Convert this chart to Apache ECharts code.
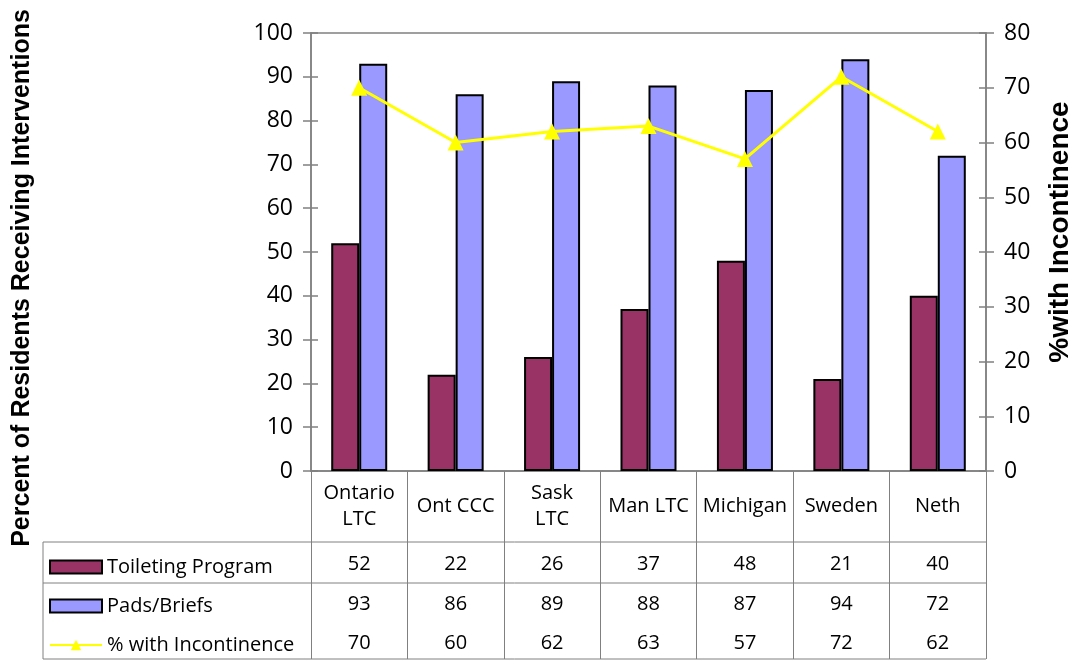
<!DOCTYPE html>
<html>
<head>
<meta charset="utf-8">
<script src="https://cdn.jsdelivr.net/npm/echarts@6/dist/echarts.min.js"></script>
<style>
  html, body { margin: 0; padding: 0; background: #fff; }
  #chart { width: 1075px; height: 660px; }
</style>
</head>
<body>
<div id="chart"></div>
<script>
// Sites compared
const categories = ['Ontario\nLTC', 'Ont CCC', 'Sask\nLTC', 'Man LTC', 'Michigan', 'Sweden', 'Neth'];
// Percent of residents receiving each intervention (left axis)
const toileting = [52, 22, 26, 37, 48, 21, 40];
const padsBriefs = [93, 86, 89, 88, 87, 94, 72];
// Percent of residents with incontinence (right axis)
const incontinence = [70, 60, 62, 63, 57, 72, 62];
const seriesNames = ['Toileting Program', 'Pads/Briefs', '% with Incontinence'];

const FONT = '"Open Sans", "DejaVu Sans", sans-serif';
const GRID = { left: 311, right: 89, top: 33, bottom: 189 };
const AXIS_GREY = '#808080';
const TABLE_LEFT = 43, ROW1_TOP = 542, ROW2_TOP = 583, TABLE_BOTTOM = 659, PLOT_RIGHT = 986;
const ROW_CENTERS = [564, 603, 642];

const chart = echarts.init(document.getElementById('chart'), null, { renderer: 'canvas' });

function valueRowAxis(values, offset) {
  return {
    type: 'category', data: categories, position: 'bottom', offset: offset,
    axisLine: { show: false }, axisTick: { show: false },
    axisLabel: {
      interval: 0, margin: 0, verticalAlign: 'middle',
      fontFamily: FONT, fontSize: 20, color: '#000',
      formatter: (v, i) => String(values[i])
    }
  };
}

function yAx(pos, max, interval, withLabels, inside) {
  return {
    type: 'value', position: pos, min: 0, max: max, interval: interval,
    splitLine: { show: false },
    axisLine: { show: withLabels, lineStyle: { color: AXIS_GREY, width: 1.5 } },
    axisTick: { show: true, inside: inside, length: inside ? 7 : 8, lineStyle: { color: AXIS_GREY, width: 1.5 } },
    axisLabel: { show: withLabels, margin: 18, fontFamily: FONT, fontSize: 23, color: '#000' }
  };
}

// one legend entry per table row, sitting in the row-header column
function rowLegend(name, rowIndex, icon) {
  const item = icon ? { name: name, icon: icon } : { name: name };
  return {
    orient: 'vertical', left: 49, top: ROW_CENTERS[rowIndex] - 7, padding: 0,
    itemWidth: 52, itemHeight: 13, itemGap: 0,
    data: [item],
    textStyle: { fontFamily: FONT, fontSize: 20, lineHeight: 14, color: '#000' }
  };
}

const option = {
  animation: false,
  backgroundColor: '#fff',
  grid: {
    left: GRID.left, right: GRID.right, top: GRID.top, bottom: GRID.bottom,
    show: true, borderColor: AXIS_GREY, borderWidth: 1.5, backgroundColor: 'transparent'
  },
  legend: [
    rowLegend(seriesNames[0], 0, 'rect'),
    rowLegend(seriesNames[1], 1, 'rect'),
    rowLegend(seriesNames[2], 2, null)
  ],
  xAxis: [
    {
      type: 'category', data: categories, boundaryGap: true,
      axisLine: { show: true, lineStyle: { color: AXIS_GREY, width: 1.5 } },
      axisTick: { show: true, interval: 0, length: 188, lineStyle: { color: AXIS_GREY, width: 1 } },
      axisLabel: {
        interval: 0, margin: 35, verticalAlign: 'middle', lineHeight: 26,
        fontFamily: FONT, fontSize: 20, color: '#000'
      }
    },
    valueRowAxis(toileting, 93),
    valueRowAxis(padsBriefs, 133),
    valueRowAxis(incontinence, 172)
  ],
  yAxis: [
    yAx('left', 100, 10, true, false),
    yAx('right', 80, 10, true, false),
    yAx('left', 100, 10, false, true),
    yAx('right', 80, 10, false, true)
  ],
  series: [
    {
      name: seriesNames[0], type: 'bar', data: toileting, yAxisIndex: 0,
      barWidth: 28, barGap: '0%',
      itemStyle: { color: '#993366', borderColor: '#000', borderWidth: 2 }
    },
    {
      name: seriesNames[1], type: 'bar', data: padsBriefs, yAxisIndex: 0,
      barWidth: 28, barGap: '0%',
      itemStyle: { color: '#9999FF', borderColor: '#000', borderWidth: 2 }
    },
    {
      name: seriesNames[2], type: 'line', data: incontinence, yAxisIndex: 1,
      symbol: 'triangle', symbolSize: 16, z: 5,
      lineStyle: { color: '#FFFF00', width: 3 },
      itemStyle: { color: '#FFFF00' }
    }
  ],
  graphic: [
    // data-table rules that sit outside the plot grid
    { type: 'line', shape: { x1: TABLE_LEFT, y1: ROW1_TOP, x2: PLOT_RIGHT, y2: ROW1_TOP }, style: { stroke: AXIS_GREY, lineWidth: 1 } },
    { type: 'line', shape: { x1: TABLE_LEFT, y1: ROW2_TOP, x2: PLOT_RIGHT, y2: ROW2_TOP }, style: { stroke: AXIS_GREY, lineWidth: 1 } },
    { type: 'line', shape: { x1: TABLE_LEFT, y1: TABLE_BOTTOM, x2: PLOT_RIGHT, y2: TABLE_BOTTOM }, style: { stroke: AXIS_GREY, lineWidth: 1 } },
    { type: 'line', shape: { x1: TABLE_LEFT, y1: ROW1_TOP, x2: TABLE_LEFT, y2: TABLE_BOTTOM }, style: { stroke: AXIS_GREY, lineWidth: 1 } },
    // axis titles
    {
      type: 'text', x: 22, y: 278, rotation: Math.PI / 2,
      style: {
        text: 'Percent of Residents Receiving Interventions',
        font: 'bold 25px "Liberation Sans", Arial, sans-serif', fill: '#000',
        align: 'center', verticalAlign: 'middle'
      }
    },
    {
      type: 'text', x: 1060, y: 232, rotation: Math.PI / 2,
      style: {
        text: '%with Incontinence',
        font: 'bold 28px "Liberation Sans", Arial, sans-serif', fill: '#000',
        align: 'center', verticalAlign: 'middle'
      }
    }
  ]
};

chart.setOption(option);
</script>
</body>
</html>
